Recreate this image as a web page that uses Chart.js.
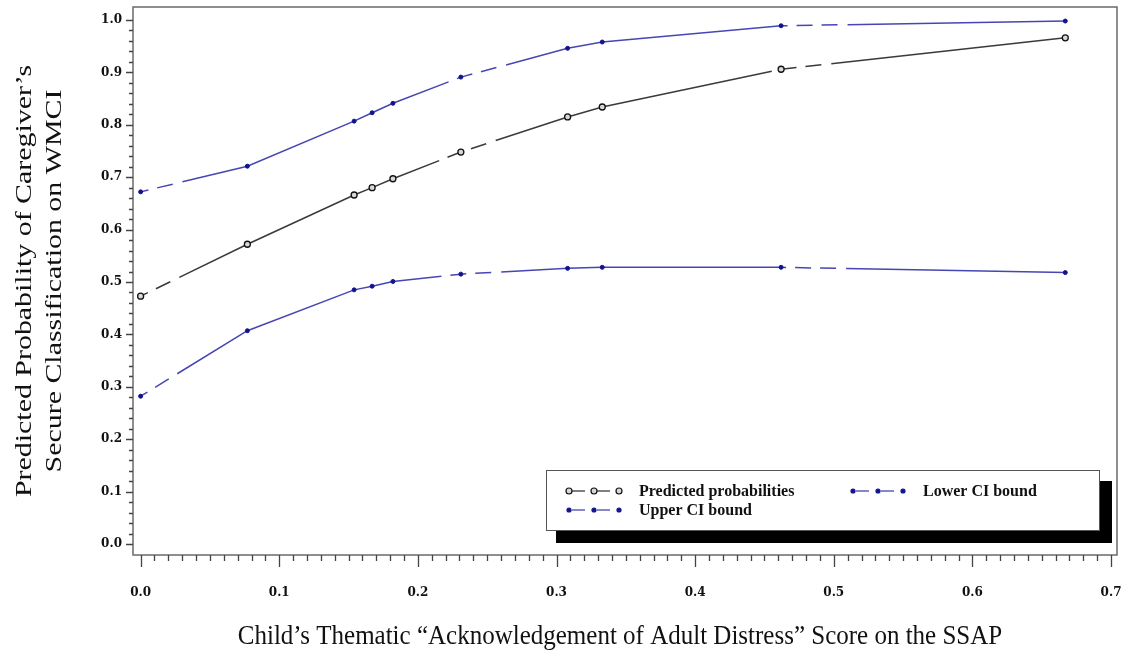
<!DOCTYPE html>
<html>
<head>
<meta charset="utf-8">
<script src="https://cdn.jsdelivr.net/npm/chart.js@4.4.1/dist/chart.umd.min.js"></script>
<style>
  html, body { margin: 0; padding: 0; background: #fff; }
  canvas { display: block; }
</style>
</head>
<body>
<canvas id="probChart" width="1125" height="653"></canvas>
<script>
// SSAP score values where the model was evaluated
const scoreValues = [0, 0.077, 0.154, 0.167, 0.182, 0.231, 0.308, 0.333, 0.462, 0.667];
const predicted   = [0.473, 0.572, 0.666, 0.680, 0.697, 0.748, 0.815, 0.834, 0.906, 0.966];
const upperBound  = [0.672, 0.721, 0.807, 0.823, 0.841, 0.891, 0.946, 0.958, 0.989, 0.998];
const lowerBound  = [0.282, 0.407, 0.485, 0.492, 0.501, 0.515, 0.526, 0.528, 0.528, 0.518];

const xTicks = [0, 0.1, 0.2, 0.3, 0.4, 0.5, 0.6, 0.7];
const xTickLabels = ['0.0', '0.1', '0.2', '0.3', '0.4', '0.5', '0.6', '0.7'];
const yTicks = [0, 0.1, 0.2, 0.3, 0.4, 0.5, 0.6, 0.7, 0.8, 0.9, 1.0];
const yTickLabels = ['0.0', '0.1', '0.2', '0.3', '0.4', '0.5', '0.6', '0.7', '0.8', '0.9', '1.0'];

const seriesNames = ['Predicted probabilities', 'Upper CI bound', 'Lower CI bound'];
const yTitleLines = ['Predicted Probability of Caregiver\u2019s', 'Secure Classification on WMCI'];
const xTitle = 'Child\u2019s Thematic \u201cAcknowledgement of Adult Distress\u201d Score on the SSAP';

const BLUE_LINE = '#4646b4';
const BLUE_DOT = '#12128c';
const DARK_LINE = '#3a3a3a';
// long solid run broken by a couple of short dashes, SAS style
const sasDash = [285, 9, 16, 9, 16, 10];
const sasDashOffset = 302;

const toPoints = ys => scoreValues.map((x, i) => ({ x: x, y: ys[i] }));

// axis frame, tick marks, axis titles and the boxed legend
const framePlugin = {
  id: 'framePlugin',
  afterDraw(chart) {
    const ctx = chart.ctx;
    const area = chart.chartArea;
    const xs = chart.scales.x;
    const ys = chart.scales.y;
    ctx.save();

    ctx.strokeStyle = '#6a6a6a';
    ctx.lineWidth = 1.5;
    ctx.strokeRect(area.left, area.top, area.right - area.left, area.bottom - area.top);

    ctx.strokeStyle = '#444';
    ctx.lineWidth = 1.3;
    ctx.beginPath();
    for (let i = 0; i <= 70; i++) {
      const px = Math.round(xs.getPixelForValue(i / 100)) + 0.5;
      const len = i % 10 === 0 ? 12 : 6;
      ctx.moveTo(px, area.bottom);
      ctx.lineTo(px, area.bottom + len);
    }
    for (let i = 0; i <= 50; i++) {
      const py = Math.round(ys.getPixelForValue(i / 50)) + 0.5;
      const len = i % 5 === 0 ? 7 : 4;
      ctx.moveTo(area.left, py);
      ctx.lineTo(area.left - len, py);
    }
    ctx.stroke();

    // titles (the vertical one is stretched along its length)
    ctx.fillStyle = '#111';
    ctx.textAlign = 'center';
    ctx.textBaseline = 'middle';
    ctx.save();
    ctx.translate(0, (area.top + area.bottom) / 2);
    ctx.rotate(-Math.PI / 2);
    ctx.scale(1.3, 1);
    ctx.font = '23px "Liberation Serif"';
    ctx.fillText(yTitleLines[0], 0, 25);
    ctx.fillText(yTitleLines[1], 0, 55);
    ctx.restore();

    ctx.save();
    ctx.translate((area.left + area.right) / 2 - 5, 637);
    ctx.scale(1, 1.1);
    ctx.font = '25px "Liberation Serif"';
    ctx.fillText(xTitle, 0, 0);
    ctx.restore();

    // legend box with drop shadow
    const bx = 546, by = 470, bw = 553, bh = 60;
    ctx.fillStyle = '#000';
    ctx.fillRect(bx + 10, by + 11, bw + 3, bh + 2);
    ctx.fillStyle = '#fff';
    ctx.fillRect(bx, by, bw, bh);
    ctx.strokeStyle = '#555';
    ctx.lineWidth = 1;
    ctx.strokeRect(bx + 0.5, by + 0.5, bw, bh);

    const entries = [
      { label: seriesNames[0], x: 569, y: 491, ds: chart.data.datasets[0] },
      { label: seriesNames[2], x: 853, y: 491, ds: chart.data.datasets[2] },
      { label: seriesNames[1], x: 569, y: 510, ds: chart.data.datasets[1] }
    ];
    ctx.font = 'bold 16px "Liberation Serif"';
    ctx.textAlign = 'left';
    entries.forEach(e => {
      for (let k = 0; k < 3; k++) {
        const mx = e.x + k * 25;
        if (k < 2) {
          ctx.strokeStyle = e.ds.borderColor;
          ctx.lineWidth = 1.3;
          ctx.beginPath();
          ctx.moveTo(mx + 3, e.y);
          ctx.lineTo(mx + 16, e.y);
          ctx.stroke();
        }
        ctx.beginPath();
        ctx.arc(mx, e.y, e.ds.pointRadius, 0, Math.PI * 2);
        ctx.fillStyle = e.ds.pointBackgroundColor;
        ctx.fill();
        ctx.strokeStyle = e.ds.pointBorderColor;
        ctx.lineWidth = 1.2;
        ctx.stroke();
      }
      ctx.fillStyle = '#111';
      ctx.fillText(e.label, e.x + 70, e.y + 1);
    });
    ctx.restore();
  }
};

const ctx = document.getElementById('probChart').getContext('2d');
new Chart(ctx, {
  type: 'scatter',
  data: {
    datasets: [
      {
        label: seriesNames[0],
        data: toPoints(predicted),
        showLine: true,
        borderColor: DARK_LINE,
        borderWidth: 1.5,
        borderDash: sasDash,
        borderDashOffset: sasDashOffset,
        pointRadius: 3,
        pointBackgroundColor: '#d8d8d8',
        pointBorderColor: '#111',
        pointBorderWidth: 1.3
      },
      {
        label: seriesNames[1],
        data: toPoints(upperBound),
        showLine: true,
        borderColor: BLUE_LINE,
        borderWidth: 1.5,
        borderDash: sasDash,
        borderDashOffset: sasDashOffset,
        pointRadius: 2,
        pointBackgroundColor: BLUE_DOT,
        pointBorderColor: BLUE_DOT,
        pointBorderWidth: 1
      },
      {
        label: seriesNames[2],
        data: toPoints(lowerBound),
        showLine: true,
        borderColor: BLUE_LINE,
        borderWidth: 1.5,
        borderDash: sasDash,
        borderDashOffset: sasDashOffset,
        pointRadius: 2,
        pointBackgroundColor: BLUE_DOT,
        pointBorderColor: BLUE_DOT,
        pointBorderWidth: 1
      }
    ]
  },
  options: {
    responsive: false,
    animation: false,
    layout: { padding: { top: 7, right: 8, left: 0, bottom: 0 } },
    plugins: {
      legend: { display: false },
      tooltip: { enabled: false }
    },
    scales: {
      x: {
        type: 'linear',
        min: -0.0055,
        max: 0.7043,
        afterBuildTicks: s => { s.ticks = xTicks.map(v => ({ value: v })); },
        afterFit: s => { s.height = 98; s.paddingLeft = 0; s.paddingRight = 0; },
        grid: { display: false, drawTicks: false },
        border: { display: false },
        ticks: {
          padding: 31,
          color: '#111',
          font: { family: 'DejaVu Serif', weight: 'bold', size: 12 },
          maxRotation: 0,
          callback: (v, i) => xTickLabels[i]
        }
      },
      y: {
        type: 'linear',
        min: -0.021,
        max: 1.0248,
        afterBuildTicks: s => { s.ticks = yTicks.map(v => ({ value: v })); },
        afterFit: s => { s.width = 133; s.paddingTop = 0; s.paddingBottom = 0; },
        grid: { display: false, drawTicks: false },
        border: { display: false },
        ticks: {
          padding: 11,
          color: '#111',
          font: { family: 'DejaVu Serif', weight: 'bold', size: 12 },
          callback: (v, i) => yTickLabels[i]
        }
      }
    }
  },
  plugins: [framePlugin]
});
</script>
</body>
</html>
